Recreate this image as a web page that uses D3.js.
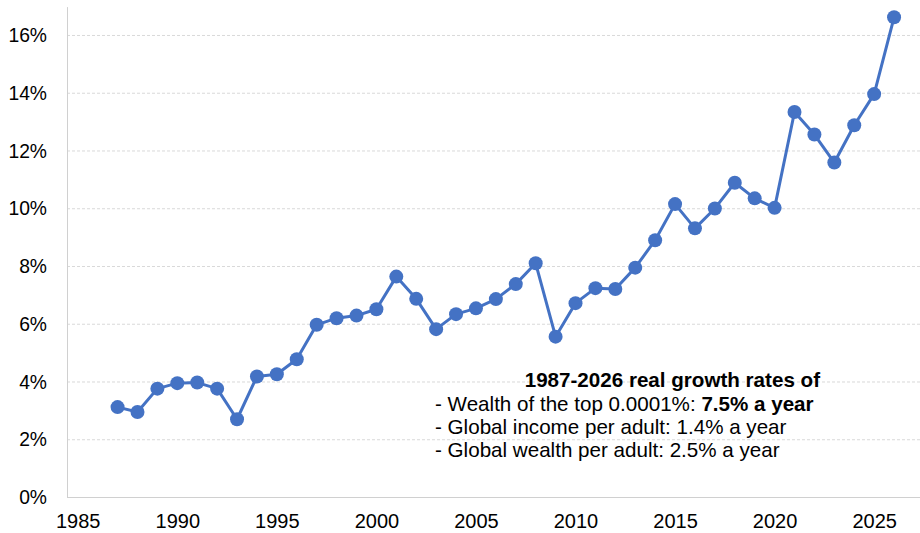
<!DOCTYPE html>
<html>
<head>
<meta charset="utf-8">
<script src="https://cdn.jsdelivr.net/npm/d3@7"></script>
<style>
  html, body { margin: 0; padding: 0; background: #fff; }
  svg { display: block; font-family: "Liberation Sans", Arial, sans-serif; }
</style>
</head>
<body>
<svg id="chart" width="920" height="533"></svg>
<script>
const years = d3.range(1987, 2027);
const values = [3.13, 2.96, 3.77, 3.96, 3.98, 3.77, 2.71, 4.19, 4.27, 4.79,
                5.98, 6.21, 6.30, 6.52, 7.65, 6.88, 5.83, 6.35, 6.55, 6.87,
                7.39, 8.11, 5.57, 6.73, 7.25, 7.22, 7.96, 8.91, 10.16, 9.32,
                10.01, 10.90, 10.36, 10.03, 13.35, 12.57, 11.60, 12.89, 13.97, 16.63];
const xTicks = [1985, 1990, 1995, 2000, 2005, 2010, 2015, 2020, 2025];
const yTicks = [0, 2, 4, 6, 8, 10, 12, 14, 16];
const noteTitle = "1987-2026 real growth rates of";
const noteLines = [
  [["- Wealth of the top 0.0001%: ", false], ["7.5% a year", true]],
  [["- Global income per adult: 1.4% a year", false]],
  [["- Global wealth per adult: 2.5% a year", false]]
];

const data = years.map((yr, i) => ({ year: yr, value: values[i] }));
const svg = d3.select("#chart");
const mLeft = 67, mRight = 920, mTop = 6.6, mBottom = 497.5;

const x = d3.scaleLinear().domain([1984.46, 2027.3]).range([mLeft, mLeft + (2027.3 - 1984.46) * 19.91]);
const y = d3.scaleLinear().domain([0, 17]).range([mBottom, mTop]);

// gridlines
svg.append("g").selectAll("line").data(yTicks.filter(d => d > 0)).join("line")
  .attr("x1", mLeft).attr("x2", mRight)
  .attr("y1", d => y(d)).attr("y2", d => y(d))
  .attr("stroke", "#d9d9d9").attr("stroke-width", 1).attr("stroke-dasharray", "3,2");

// y axis
const yAxis = d3.axisLeft(y).tickValues(yTicks).tickSize(0).tickPadding(20)
  .tickFormat(d => d + "%");
const gy = svg.append("g").attr("transform", `translate(${mLeft},0)`).call(yAxis);
gy.select(".domain").attr("stroke", "#d0d0d0");
gy.selectAll("text").attr("font-size", 19.3).attr("fill", "#000")
  .attr("font-family", "Liberation Sans, Arial, sans-serif");

// x axis
const xAxis = d3.axisBottom(x).tickValues(xTicks).tickSize(0).tickPadding(16)
  .tickFormat(d3.format("d"));
const gx = svg.append("g").attr("transform", `translate(0,${mBottom})`).call(xAxis);
gx.select(".domain").attr("stroke", "#d0d0d0").attr("d", `M${mLeft},0H${mRight}`);
gx.selectAll("text").attr("font-size", 20).attr("fill", "#000")
  .attr("font-family", "Liberation Sans, Arial, sans-serif");

// line
const line = d3.line().x(d => x(d.year)).y(d => y(d.value));
svg.append("path").datum(data).attr("d", line)
  .attr("fill", "none").attr("stroke", "#4472C4").attr("stroke-width", 3)
  .attr("stroke-linejoin", "round");

svg.append("g").selectAll("circle").data(data).join("circle")
  .attr("cx", d => x(d.year)).attr("cy", d => y(d.value)).attr("r", 7)
  .attr("fill", "#4472C4");

// note
const note = svg.append("g").attr("font-size", 20.6).attr("fill", "#000");
note.append("text").attr("x", 820).attr("y", 387).attr("text-anchor", "end")
  .attr("font-weight", "bold").text(noteTitle);
noteLines.forEach((parts, i) => {
  const t = note.append("text").attr("x", 435).attr("y", 410.5 + i * 23);
  parts.forEach(([s, b]) => t.append("tspan").attr("font-weight", b ? "bold" : "normal").text(s));
});
</script>
</body>
</html>
